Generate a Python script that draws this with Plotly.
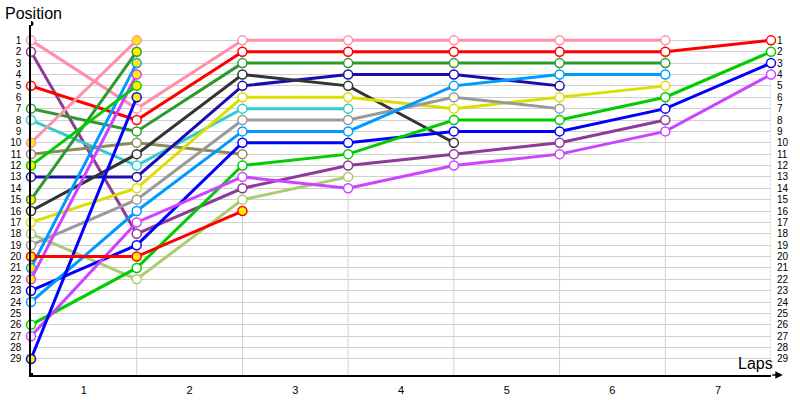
import plotly.graph_objects as go

# x = 0 is the start grid, then one column per completed lap
lap_points = [0, 1, 2, 3, 4, 5, 6, 7]
lap_labels = ["1", "2", "3", "4", "5", "6", "7"]
positions = list(range(1, 30))

# first car of each team (white markers)
pink_a = [1, 7, 1, 1, 1, 1, 1, None]
purple_a = [2, 18, 14, 12, 11, 10, 8, None]
red_a = [5, 8, 2, 2, 2, 2, 2, 1]
dgreen_a = [7, 9, 3, 3, 3, 3, 3, None]
cyan_a = [8, 12, 7, 7, None, None, None, None]
olive_a = [11, 10, 11, None, None, None, None, None]
navy_a = [13, 13, 5, 4, 4, 5, None, None]
dgray_a = [16, 11, 4, 5, 10, None, None, None]
yellow_a = [17, 14, 6, 6, 7, 6, 5, None]
lgreen_a = [18, 22, 15, 13, None, None, None, None]
gray_a = [19, 15, 8, 8, 6, 7, None, None]
blue_a = [23, 19, 10, 10, 9, 9, 7, 3]
lblue_a = [24, 16, 9, 9, 5, 4, 4, None]
green_a = [26, 21, 12, 11, 8, 8, 6, 2]
magenta_a = [27, 17, 13, 14, 12, 11, 9, 4]

# second car of each team (yellow markers)
pink_b = [10, 1]
dgreen_b = [15, 2]
lblue_b = [21, 3]
magenta_b = [22, 4]
green_b = [12, 5]
blue_b = [29, 6]
red_b = [20, 20, 16]

COLORS = {
    "pink": "#ff8fab",
    "purple": "#8e3a98",
    "red": "#ff0000",
    "dgreen": "#2e9a2e",
    "cyan": "#33cccc",
    "olive": "#8c8c5a",
    "navy": "#1a0db0",
    "dgray": "#333333",
    "yellow": "#dddd00",
    "lgreen": "#a8cc6e",
    "gray": "#999999",
    "blue": "#0000ff",
    "lblue": "#0099ff",
    "green": "#00cc00",
    "magenta": "#cc44ff",
}

series = [
    ("pink", pink_a, "white"),
    ("purple", purple_a, "white"),
    ("red", red_a, "white"),
    ("dgreen", dgreen_a, "white"),
    ("cyan", cyan_a, "white"),
    ("olive", olive_a, "white"),
    ("navy", navy_a, "white"),
    ("dgray", dgray_a, "white"),
    ("yellow", yellow_a, "white"),
    ("lgreen", lgreen_a, "white"),
    ("gray", gray_a, "white"),
    ("blue", blue_a, "white"),
    ("lblue", lblue_a, "white"),
    ("green", green_a, "white"),
    ("magenta", magenta_a, "white"),
    ("pink", pink_b, "#ffee00"),
    ("dgreen", dgreen_b, "#ffee00"),
    ("lblue", lblue_b, "#ffee00"),
    ("magenta", magenta_b, "#ffee00"),
    ("green", green_b, "#ffee00"),
    ("blue", blue_b, "#ffee00"),
    ("red", red_b, "#ffee00"),
]

Y_TOP, Y_BOTTOM = -0.35, 30.41
FONT = "Liberation Sans, Arial, sans-serif"
TICK_FONT = dict(family=FONT, size=10, color="#000000")

fig = go.Figure()

for key, vals, fill in series:
    fig.add_trace(go.Scatter(
        x=lap_points[:len(vals)],
        y=vals,
        mode="lines+markers",
        line=dict(color=COLORS[key], width=3),
        marker=dict(size=9, color=fill, line=dict(color=COLORS[key], width=1.5)),
        cliponaxis=False,
        showlegend=False,
        hoverinfo="skip",
    ))

# invisible trace so the right-hand position axis is drawn
fig.add_trace(go.Scatter(x=[None], y=[None], yaxis="y2", showlegend=False, hoverinfo="skip"))

# vertical grid lines at each lap boundary, from P1 down to the axis
for lap in lap_points[1:]:
    fig.add_shape(type="line", x0=lap, x1=lap, y0=1, y1=Y_BOTTOM, xref="x", yref="y",
                  line=dict(color="#d0d0d0", width=1), layer="below")

# axis end dots
fig.add_shape(type="circle", xref="x", yref="paper", xsizemode="pixel", ysizemode="pixel",
              xanchor=0, yanchor=1, x0=-2.5, x1=2.5, y0=-1, y1=4,
              fillcolor="black", line=dict(color="black", width=0))
fig.add_shape(type="rect", xref="x", yref="paper", xsizemode="pixel", ysizemode="pixel",
              xanchor=0, yanchor=0, x0=-2, x1=2, y0=-2, y1=2,
              fillcolor="black", line=dict(color="black", width=0))

fig.update_layout(
    width=800,
    height=400,
    margin=dict(l=31, r=29, t=25, b=25),
    plot_bgcolor="white",
    paper_bgcolor="white",
    xaxis=dict(
        range=[0, 7],
        tickvals=[p + 0.5 for p in lap_points[:-1]],
        ticktext=lap_labels,
        showgrid=False,
        zeroline=False,
        showline=True,
        linecolor="black",
        linewidth=1.5,
        ticks="",
        automargin=False,
        ticklabelstandoff=4,
        tickfont=dict(family=FONT, size=11, color="#000000"),
    ),
    yaxis=dict(
        range=[Y_BOTTOM, Y_TOP],
        tickvals=positions,
        showgrid=True,
        gridcolor="#d0d0d0",
        gridwidth=1,
        zeroline=False,
        showline=True,
        linecolor="black",
        linewidth=1.5,
        ticks="",
        automargin=False,
        ticklabelstandoff=6,
        tickfont=TICK_FONT,
    ),
    yaxis2=dict(
        range=[Y_BOTTOM, Y_TOP],
        tickvals=positions,
        overlaying="y",
        side="right",
        showgrid=False,
        zeroline=False,
        showline=False,
        ticks="",
        automargin=False,
        ticklabelstandoff=5,
        tickfont=TICK_FONT,
    ),
    annotations=[
        dict(text="Position", xref="paper", yref="paper", x=0, y=1, xshift=-28, yshift=1,
             xanchor="left", yanchor="bottom", showarrow=False,
             font=dict(family=FONT, size=16, color="#000000")),
        dict(text="Laps", xref="paper", yref="paper", x=1, y=0, xshift=4, yshift=1,
             xanchor="right", yanchor="bottom", showarrow=False,
             font=dict(family=FONT, size=16, color="#000000")),
        dict(text="", xref="paper", yref="paper", x=1.016, y=0, ax=-12, ay=0,
             showarrow=True, arrowhead=2, arrowsize=1, arrowwidth=1.5, arrowcolor="black"),
    ],
)

# drop the browser's default body margin so the figure sits at the page corner
fig.write_html(
    "out.html",
    config={"displayModeBar": False},
    post_script="document.body.style.margin = '0';",
)
